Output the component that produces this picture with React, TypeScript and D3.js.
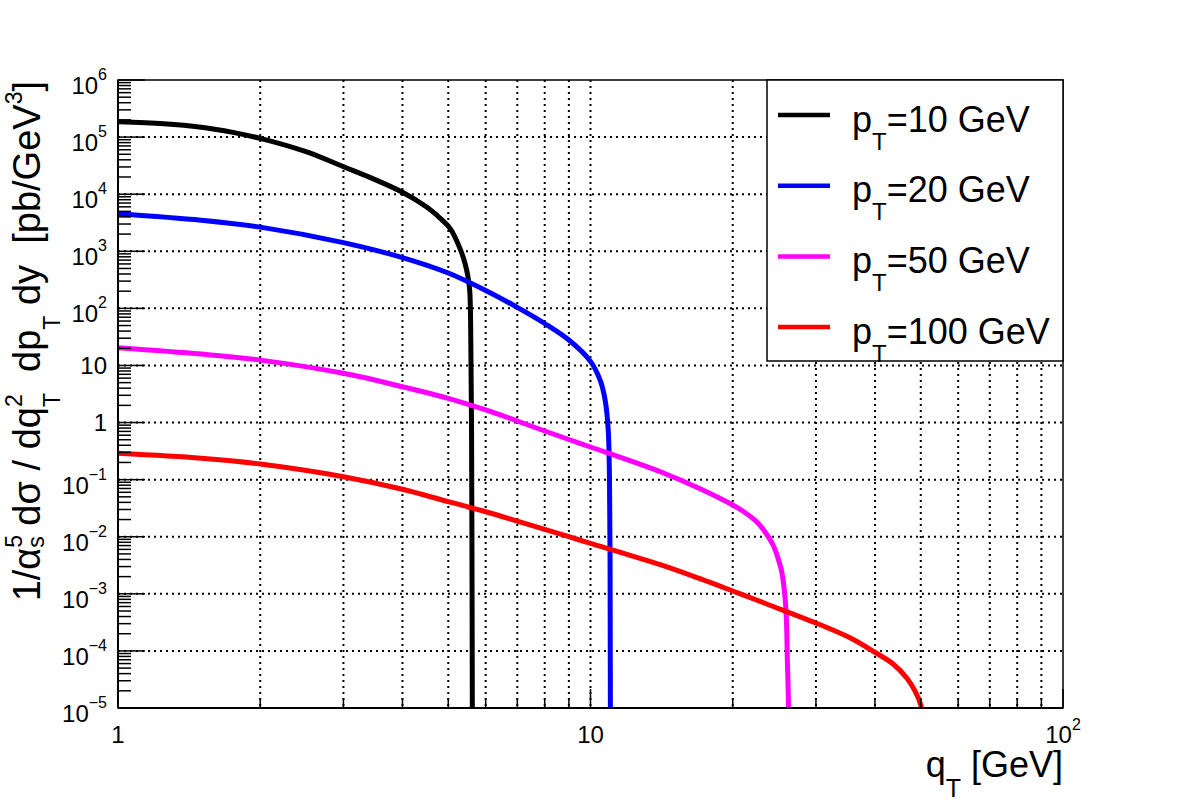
import React, { useEffect, useRef } from 'react';
import * as d3 from 'd3';

// q_T [GeV] and 1/alpha_s^5 dsigma/... [pb/GeV^3]
const qPt10 = [1, 1.25, 1.5, 1.75, 2, 2.5, 3, 3.5, 4, 4.5, 4.75, 5, 5.1, 5.2, 5.33, 5.43, 5.5, 5.55, 5.57, 5.58, 5.6, 5.615, 5.625, 5.63];
const sigPt10 = [1.86e5, 1.72e5, 1.49e5, 1.21e5, 9.5e4, 5.55e4, 3.03e4, 1.8e4, 1.08e4, 5970, 4150, 2770, 2180, 1580, 971, 598, 369, 210, 93, 28, 1, 1e-3, 1e-6, 1e-8];

const qPt20 = [1, 1.5, 2, 3, 4, 5, 6, 7, 8, 9, 10, 10.5, 10.75, 10.9, 10.97, 11.0, 11.02, 11.04];
const sigPt20 = [4560, 3510, 2650, 1420, 776, 416, 206, 104, 54.3, 27.9, 11.8, 5.3, 2.35, 0.76, 0.1, 0.004, 3e-6, 1e-8];

const qPt50 = [1, 1.5, 2, 3, 4, 5, 6, 7, 8, 9, 10, 14.1, 17.1, 20, 21, 22.5, 23.5, 24.4, 25, 25.4, 25.9, 26.1, 26.25, 26.35];
const sigPt50 = [20.4, 15.8, 12.4, 7.28, 4.24, 2.65, 1.66, 1.065, 0.711, 0.505, 0.373, 0.136, 0.0686, 0.036, 0.0282, 0.0181, 0.0116, 0.00689, 0.00391, 0.00241, 5.94e-4, 6.9e-5, 1e-5, 1e-7];

const qPt100 = [1, 1.5, 2, 3, 4, 5, 6, 7, 8, 9, 10, 14.1, 17.1, 20, 23.6, 30, 35.5, 39.9, 43.7, 46.7, 48.6, 50, 50.5, 51];
const sigPt100 = [0.289, 0.237, 0.188, 0.1127, 0.0678, 0.0411, 0.0274, 0.0188, 0.0135, 0.0100, 0.00767, 0.0032, 0.00182, 0.00112, 6.64e-4, 3.08e-4, 1.68e-4, 9.57e-5, 5.9e-5, 3.35e-5, 1.99e-5, 1.13e-5, 6.7e-6, 1e-7];

const legendLabels = ['10', '20', '50', '100'];
const colors = ['#000000', '#0000ff', '#ff00ff', '#ff0000'];

const xDecades = [0, 1, 2];
const yDecades = [-5, -4, -3, -2, -1, 0, 1, 2, 3, 4, 5, 6];

const FONT = '"Liberation Sans", Arial, Helvetica, sans-serif';

const App = () => {
    const ref = useRef(null);

    useEffect(() => {
        const svg = d3.select(ref.current);
        svg.selectAll('*').remove();

        const left = 118, right = 1063, top = 80, bottom = 708;

        const x = d3.scaleLog().domain([1, 100]).range([left, right]);
        const y = d3.scaleLog().domain([1e-5, 1e6]).range([bottom, top]);

        const xMinor = [];
        [1, 10].forEach(d => { for (let k = 2; k <= 9; k++) xMinor.push(d * k); });
        const yMinor = [];
        for (let n = -5; n <= 5; n++) for (let k = 2; k <= 9; k++) yMinor.push(k * Math.pow(10, n));

        svg.append('defs').append('clipPath').attr('id', 'frame')
            .append('rect').attr('x', left).attr('y', top)
            .attr('width', right - left).attr('height', bottom - top);

        // grid
        const grid = svg.append('g')
            .attr('stroke', '#000').attr('stroke-width', 2)
            .attr('stroke-dasharray', '2 4');
        grid.selectAll('.gx')
            .data(xMinor.concat([10]))
            .enter().append('line')
            .attr('x1', d => x(d)).attr('x2', d => x(d))
            .attr('y1', top).attr('y2', bottom);
        grid.selectAll('.gy')
            .data(yDecades.filter(n => n > -5 && n < 6))
            .enter().append('line')
            .attr('x1', left).attr('x2', right)
            .attr('y1', n => y(Math.pow(10, n))).attr('y2', n => y(Math.pow(10, n)));

        // curves
        const series = [
            { q: qPt10, s: sigPt10 },
            { q: qPt20, s: sigPt20 },
            { q: qPt50, s: sigPt50 },
            { q: qPt100, s: sigPt100 },
        ];
        const line = d3.line()
            .x(d => x(d[0]))
            .y(d => y(d[1]))
            .curve(d3.curveCatmullRom.alpha(0.5));
        const curves = svg.append('g').attr('clip-path', 'url(#frame)');
        series.forEach((ser, i) => {
            curves.append('path')
                .datum(ser.q.map((q, j) => [q, ser.s[j]]))
                .attr('fill', 'none')
                .attr('stroke', colors[i])
                .attr('stroke-width', 5)
                .attr('stroke-linejoin', 'round')
                .attr('d', line);
        });

        // frame
        svg.append('rect')
            .attr('x', left).attr('y', top)
            .attr('width', right - left).attr('height', bottom - top)
            .attr('fill', 'none').attr('stroke', '#000').attr('stroke-width', 1.5);
        svg.append('line').attr('x1', left).attr('x2', left).attr('y1', top).attr('y2', bottom)
            .attr('stroke', '#000').attr('stroke-width', 2);
        svg.append('line').attr('x1', left).attr('x2', right).attr('y1', bottom).attr('y2', bottom)
            .attr('stroke', '#000').attr('stroke-width', 2);

        // ticks
        const ticks = svg.append('g').attr('stroke', '#000').attr('stroke-width', 1.5);
        ticks.selectAll('.ym').data(yMinor).enter().append('line')
            .attr('x1', left).attr('x2', left + 13)
            .attr('y1', d => y(d)).attr('y2', d => y(d));
        ticks.selectAll('.yM').data(yDecades).enter().append('line')
            .attr('x1', left).attr('x2', left + 27)
            .attr('y1', n => y(Math.pow(10, n))).attr('y2', n => y(Math.pow(10, n)));
        ticks.selectAll('.xm').data(xMinor).enter().append('line')
            .attr('x1', d => x(d)).attr('x2', d => x(d))
            .attr('y1', bottom).attr('y2', bottom - 10);
        ticks.selectAll('.xM').data(xDecades).enter().append('line')
            .attr('x1', n => x(Math.pow(10, n))).attr('x2', n => x(Math.pow(10, n)))
            .attr('y1', bottom).attr('y2', bottom - 19);

        // y tick labels
        yDecades.forEach(n => {
            const yy = y(Math.pow(10, n));
            const t = svg.append('text')
                .attr('x', 107).attr('text-anchor', 'end')
                .attr('font-family', FONT).attr('font-size', 24).attr('fill', '#000');
            if (n === 0 || n === 1) {
                t.attr('y', yy + 8.5).text(n === 0 ? '1' : '10');
            } else {
                t.attr('y', yy + 14);
                t.append('tspan').text('10');
                t.append('tspan').attr('dy', -14).attr('font-size', 16)
                    .text(n < 0 ? '\u2212' + Math.abs(n) : String(n));
            }
        });

        // x tick labels
        xDecades.forEach(n => {
            const t = svg.append('text')
                .attr('x', x(Math.pow(10, n))).attr('y', 743)
                .attr('text-anchor', 'middle')
                .attr('font-family', FONT).attr('font-size', 24).attr('fill', '#000');
            if (n < 2) {
                t.text(n === 0 ? '1' : '10');
            } else {
                t.append('tspan').text('10');
                t.append('tspan').attr('dy', -13).attr('font-size', 16).text(String(n));
            }
        });

        // x title
        const xt = svg.append('text')
            .attr('x', right).attr('y', 777).attr('text-anchor', 'end')
            .attr('font-family', FONT).attr('font-size', 36).attr('fill', '#000')
            .style('white-space', 'pre');
        xt.append('tspan').text('q');
        xt.append('tspan').attr('dy', 20).attr('font-size', 25).text('T');
        xt.append('tspan').attr('dy', -20).text(' [GeV]');

        // y title
        const yt = svg.append('text')
            .attr('transform', `translate(40,${top + 1}) rotate(-90)`)
            .attr('text-anchor', 'end')
            .attr('font-family', FONT).attr('font-size', 38).attr('fill', '#000')
            .style('white-space', 'pre');
        yt.append('tspan').text('1/\u03b1');
        yt.append('tspan').attr('dy', -18).attr('font-size', 23).text('5');
        yt.append('tspan').attr('dx', -12.8).attr('dy', 22).attr('font-size', 23).text('s');
        yt.append('tspan').attr('dy', -4).text(' d\u03c3 / dq');
        yt.append('tspan').attr('dy', -18).attr('font-size', 23).text('2');
        yt.append('tspan').attr('dx', -12.8).attr('dy', 38).attr('font-size', 23).text('T');
        yt.append('tspan').attr('dy', -20).text('  dp');
        yt.append('tspan').attr('dy', 20).attr('font-size', 23).text('T');
        yt.append('tspan').attr('dy', -20).text(' dy  [pb/GeV');
        yt.append('tspan').attr('dy', -18).attr('font-size', 23).text('3');
        yt.append('tspan').attr('dy', 18).text(']');

        // legend
        const lg = svg.append('g');
        lg.append('rect')
            .attr('x', 767).attr('y', top).attr('width', right - 767).attr('height', 281)
            .attr('fill', '#fff').attr('stroke', '#000').attr('stroke-width', 1.5);
        legendLabels.forEach((lab, i) => {
            const ly = 115 + i * 70.7;
            lg.append('line')
                .attr('x1', 778).attr('x2', 830).attr('y1', ly).attr('y2', ly)
                .attr('stroke', colors[i]).attr('stroke-width', 4.5);
            const t = lg.append('text')
                .attr('x', 852).attr('y', ly + 16.7)
                .attr('font-family', FONT).attr('font-size', 36).attr('fill', '#000');
            t.append('tspan').text('p');
            t.append('tspan').attr('dy', 18).attr('font-size', 24).text('T');
            t.append('tspan').attr('dy', -18).text(`=${lab} GeV`);
        });
    }, []);

    return (
        <svg ref={ref} width={1182} height={805}
             style={{ position: 'absolute', left: 0, top: 0, background: '#fff' }} />
    );
};

export default App;
